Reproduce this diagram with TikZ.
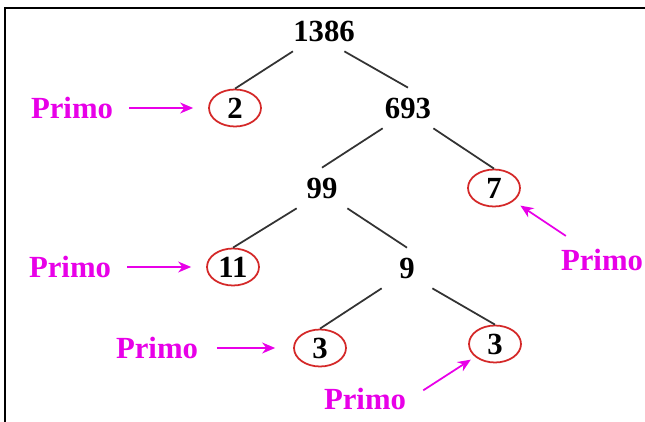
\documentclass[tikz,border=0pt]{standalone}
\usepackage{fontspec}
\setmainfont{Liberation Serif}
\usepackage{tikz}
\usetikzlibrary{shapes.geometric, arrows.meta}
\definecolor{magenta2}{RGB}{232,0,232}
\definecolor{rojo}{RGB}{212,40,40}
\tikzstyle{numero} = [rectangle, inner sep=0pt, minimum width=1cm, minimum height=0.8cm, font=\fontsize{17.5}{20}\selectfont\bfseries]
\tikzstyle{primo} = [ellipse, draw=rojo, line width=1pt, inner sep=0pt, minimum width=1.04cm, minimum height=0.74cm, font=\fontsize{17.5}{20}\selectfont\bfseries]
\tikzstyle{etiqueta} = [rectangle, inner sep=2pt, text=magenta2, font=\fontsize{17.5}{20}\selectfont\bfseries]
\tikzstyle{rama} = [line width=1pt, draw=black!80]
\tikzstyle{arrow} = [line width=1pt, draw=magenta2, -{Stealth[length=0.26cm, width=0.22cm]}]

\begin{document}
\begin{tikzpicture}[x=0.02cm, y=-0.02cm, node distance=3.26cm]

\useasboundingbox (0,0) rectangle (645,422);
\draw [line width=1.1pt] (5,422) -- (5,8) -- (645,8);

\node (n1386) [numero] at (324,31) {1386};
\node (n2) [primo] at (235,108) {2};
\node (n693) [numero] at (408,108) {693};
\node (n99) [numero] at (322,188) {99};
\node (n7) [primo] at (494,188) {7};
\node (n11) [primo] at (233,267) {11};
\node (n9) [numero] at (407,268) {9};
\node (n3a) [primo] at (320,348) {3};
\node (n3b) [primo] at (495,344) {3};

\node (p2) [etiqueta, left of=n2] {Primo};
\node (p11) [etiqueta, left of=n11] {Primo};
\node (p3a) [etiqueta, left of=n3a] {Primo};
\node (p7) [etiqueta] at (602,260) {Primo};
\node (p3b) [etiqueta] at (365,399) {Primo};

\draw [rama] (n1386.south west) -- (n2.north);
\draw [rama] (n1386.-45) -- (n693.north);
\draw [rama] (n693.south west) -- (n99.north);
\draw [rama] (n693.south east) -- (n7.north);
\draw [rama] (n99.south west) -- (n11.north);
\draw [rama] (n99.south east) -- (n9.north);
\draw [rama] (n9.south west) -- (n3a.north);
\draw [rama] (n9.south east) -- (n3b.north);

\draw [arrow, shorten <=0.25cm, shorten >=0.3cm] (p2) -- (n2);
\draw [arrow, shorten <=0.25cm, shorten >=0.3cm] (p11) -- (n11);
\draw [arrow, shorten <=0.3cm, shorten >=0.36cm] (p3a) -- (n3a);
\draw [arrow, shorten <=0.34cm, shorten >=0.16cm] (p7) -- (n7);
\draw [arrow, shorten <=0.32cm, shorten >=0.1cm] (p3b.east) -- (n3b);

\end{tikzpicture}
\end{document}
